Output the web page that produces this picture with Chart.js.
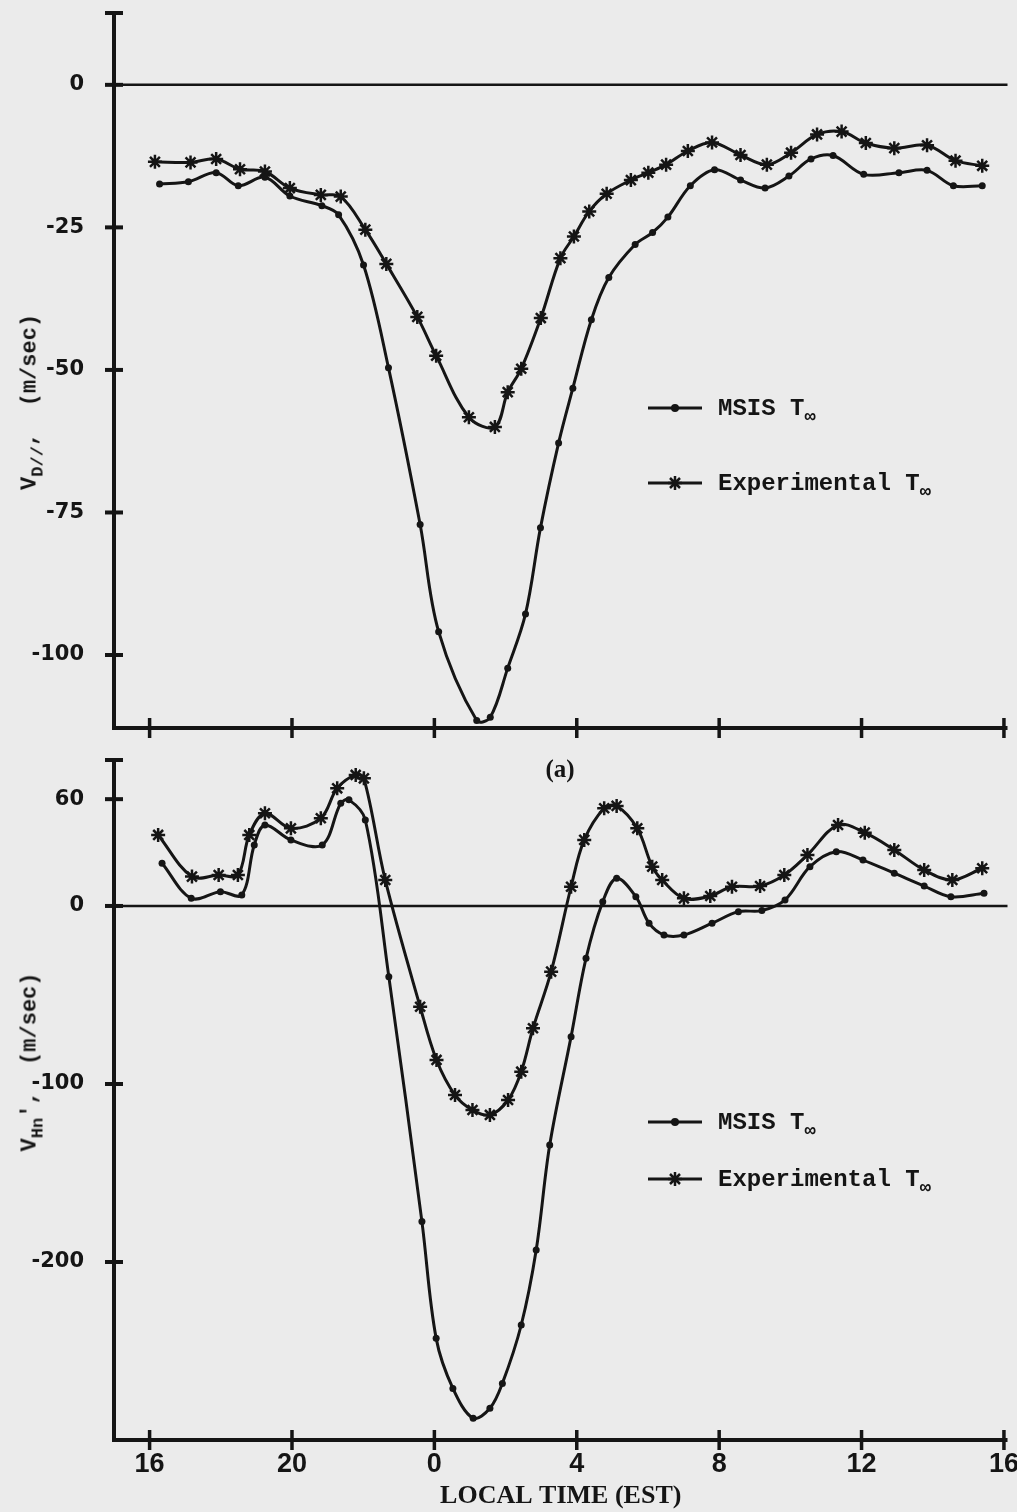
<!DOCTYPE html>
<html>
<head>
<meta charset="utf-8">
<script src="https://cdn.jsdelivr.net/npm/chart.js@4.4.1/dist/chart.umd.min.js"></script>
<style>
  body { margin: 0; background: #ebebeb; }
  #page { position: relative; width: 1017px; height: 1512px; overflow: hidden; background: #ebebeb; color: #151515; }
  canvas { position: absolute; left: 0; }
  .ylab { position: absolute; font: bold 22px "Liberation Mono", monospace; white-space: pre; transform: translate(-50%, -50%) rotate(-90deg); }
  .ylab sub, .leg sub { font-size: 0.78em; vertical-align: -0.4em; line-height: 0; }
  .leg { position: absolute; left: 648px; height: 26px; display: flex; align-items: center; font: bold 24px "Liberation Mono", monospace; white-space: pre; }
  .leg svg { margin-right: 16px; }
  .tag { position: absolute; font: bold 25px "Liberation Serif", serif; transform: translate(-50%, -50%); }
</style>
</head>
<body>
<div id="page">
  <canvas id="chartA" width="1017" height="790" style="top:0"></canvas>
  <canvas id="chartB" width="1017" height="772" style="top:740px"></canvas>
  <div class="ylab" style="left:30px;top:402px">V<sub>D//</sub>,  (m/sec)</div>
  <div class="ylab" style="left:30px;top:1062px">V<sub>Hn</sub>',  (m/sec)</div>
  <div class="tag" style="left:560px;top:769px">(a)</div>
</div>
<script>
// ---- data (hours counted from the first midnight, 24 = 0 h next day) ----
const xTickHours = [16, 20, 24, 28, 32, 36, 40];
const xTickLabels = ["16", "20", "0", "4", "8", "12", "16"];

// (a) V_D//
const yTicksA = [0, -25, -50, -75, -100];
const msisTimeA = [16.28, 17.09, 17.87, 18.49, 19.24, 19.94, 20.84, 21.31, 22.01, 22.71, 23.60, 24.12, 25.19, 25.57, 26.06, 26.56, 26.98, 27.49, 27.89, 28.41, 28.90, 29.64, 30.13, 30.56, 31.19, 31.87, 32.60, 33.29, 33.96, 34.58, 35.20, 36.06, 37.05, 37.84, 38.58, 39.39];
const msisVelA = [-17.4, -17.0, -15.4, -17.7, -16.2, -19.5, -21.2, -22.8, -31.6, -49.6, -77.1, -95.9, -111.5, -110.9, -102.3, -92.8, -77.7, -62.8, -53.2, -41.2, -33.8, -28.0, -25.9, -23.2, -17.7, -14.9, -16.7, -18.1, -16.0, -13.0, -12.4, -15.7, -15.4, -15.0, -17.7, -17.7];
const expTimeA = [16.15, 17.15, 17.87, 18.54, 19.24, 19.94, 20.81, 21.37, 22.06, 22.65, 23.52, 24.05, 24.97, 25.70, 26.06, 26.44, 26.99, 27.54, 27.92, 28.35, 28.84, 29.52, 30.01, 30.51, 31.12, 31.80, 32.60, 33.34, 34.02, 34.75, 35.44, 36.12, 36.92, 37.84, 38.64, 39.39];
const expVelA = [-13.5, -13.6, -13.0, -14.8, -15.2, -18.1, -19.3, -19.6, -25.4, -31.4, -40.7, -47.5, -58.3, -60.0, -53.9, -49.8, -40.9, -30.4, -26.6, -22.2, -19.1, -16.7, -15.4, -14.0, -11.6, -10.1, -12.3, -14.0, -11.9, -8.7, -8.2, -10.2, -11.1, -10.6, -13.3, -14.2];

// (b) V_Hn'
const yTicksB = [60, 0, -100, -200];
const msisTimeB = [16.35, 17.17, 17.99, 18.59, 18.94, 19.24, 19.97, 20.85, 21.37, 21.60, 22.06, 22.72, 23.65, 24.05, 24.52, 25.09, 25.56, 25.91, 26.44, 26.86, 27.24, 27.84, 28.26, 28.73, 29.12, 29.66, 30.03, 30.45, 31.01, 31.80, 32.54, 33.20, 33.85, 34.55, 35.29, 36.04, 36.92, 37.76, 38.51, 39.44];
const msisVelB = [24.0, 4.3, 8.0, 6.2, 34.3, 45.5, 37.1, 34.3, 57.7, 59.6, 48.3, -39.7, -177.3, -242.9, -271, -287.8, -282.2, -268.2, -235.4, -193.3, -134.3, -73.4, -29.4, 2.4, 15.6, 5.2, -9.7, -16.3, -16.3, -9.7, -3.2, -2.6, 3.4, 22.1, 30.5, 25.8, 18.4, 11.2, 5.2, 7.1];
const expTimeB = [16.24, 17.19, 17.94, 18.48, 18.80, 19.24, 19.97, 20.81, 21.27, 21.79, 22.02, 22.62, 23.60, 24.06, 24.58, 25.07, 25.56, 26.07, 26.44, 26.77, 27.28, 27.84, 28.21, 28.77, 29.12, 29.70, 30.12, 30.40, 31.01, 31.75, 32.36, 33.15, 33.83, 34.48, 35.34, 36.09, 36.92, 37.76, 38.55, 39.39];
const expVelB = [39.9, 16.5, 17.4, 17.4, 39.9, 52.1, 43.6, 49.3, 66.1, 73.6, 71.7, 14.6, -56.6, -86.5, -106.2, -114.6, -117.4, -109, -93.1, -68.7, -36.9, 10.8, 37.1, 54.9, 56.2, 43.6, 22.1, 14.6, 4.3, 5.6, 10.8, 11.2, 17.4, 28.7, 45.5, 41.2, 31.5, 20.2, 14.6, 21.2];

const seriesLabels = ["MSIS T∞", "Experimental T∞"];

const INK = "#151515";

function toPoints(t, v) {
  return t.map((h, i) => ({ x: h, y: v[i] }));
}

// axes drawn as in the figure: ticks crossing the axis, cap on top, zero line
const axisLines = {
  id: "axisLines",
  beforeDatasetsDraw(chart) {
    const { ctx, chartArea: a, scales: { x, y } } = chart;
    const line = (x1, y1, x2, y2) => { ctx.beginPath(); ctx.moveTo(x1, y1); ctx.lineTo(x2, y2); ctx.stroke(); };
    ctx.save();
    ctx.strokeStyle = INK;
    ctx.lineWidth = 2.5;
    const y0 = y.getPixelForValue(0);
    line(a.left, y0, a.right, y0);
    ctx.lineWidth = 4;
    line(a.left, a.top, a.left, a.bottom + 2);
    line(a.left - 2, a.bottom, a.right, a.bottom);
    line(a.left - 9, a.top, a.left + 9, a.top);
    y.ticks.forEach(t => { const p = y.getPixelForValue(t.value); line(a.left - 9, p, a.left + 9, p); });
    ctx.lineWidth = 3.5;
    x.ticks.forEach(t => { const p = x.getPixelForValue(t.value); line(p, a.bottom - 10, p, a.bottom + 10); });
    ctx.restore();
  }
};

function buildPanel(id, cfg) {
  return new Chart(document.getElementById(id), {
    type: "line",
    data: {
      datasets: [
        {
          label: seriesLabels[0],
          data: toPoints(cfg.msisT, cfg.msisV),
          borderColor: INK, backgroundColor: INK, borderWidth: 3,
          pointStyle: "circle", pointRadius: 3.5, pointBorderWidth: 0,
          tension: 0.35
        },
        {
          label: seriesLabels[1],
          data: toPoints(cfg.expT, cfg.expV),
          borderColor: INK, backgroundColor: INK, borderWidth: 3,
          pointStyle: "star", pointRadius: 7, pointBorderWidth: 2.5,
          tension: 0.35
        }
      ]
    },
    options: {
      responsive: false,
      animation: false,
      events: [],
      layout: { padding: { top: cfg.padTop, right: 7, left: 0, bottom: 0 } },
      plugins: { legend: { display: false }, tooltip: { enabled: false } },
      scales: {
        x: {
          type: "linear", min: 15, max: 40.1,
          grid: { display: false }, border: { display: false },
          afterBuildTicks: s => { s.ticks = xTickHours.map(v => ({ value: v })); },
          ticks: {
            display: cfg.xLabels, autoSkip: false, maxRotation: 0, padding: 0, color: INK,
            font: { family: "'Liberation Sans', sans-serif", weight: "bold", size: 27 },
            callback: (v, i) => xTickLabels[i]
          },
          title: {
            display: cfg.xLabels, text: "LOCAL TIME (EST)", color: INK, padding: { top: 0, bottom: 0 },
            font: { family: "'Liberation Serif', serif", weight: "bold", size: 26 }
          },
          afterFit: s => { s.height = cfg.xHeight; s.paddingLeft = 0; s.paddingRight = 0; }
        },
        y: {
          min: cfg.yMin, max: cfg.yMax,
          grid: { display: false }, border: { display: false },
          afterBuildTicks: s => { s.ticks = cfg.yTicks.map(v => ({ value: v })); },
          ticks: {
            padding: 22, color: INK,
            font: { family: "'DejaVu Sans', sans-serif", weight: "bold", size: 21 }
          },
          afterFit: s => { s.width = 114; s.paddingTop = 0; s.paddingBottom = 0; }
        }
      }
    },
    plugins: [axisLines]
  });
}

function sampleSvg(ds) {
  let mark = "";
  if (ds.pointStyle === "star") {
    mark = `<path d="M20 13 H34 M27 6 V20 M22 8 L32 18 M32 8 L22 18" stroke="${INK}" stroke-width="2.5" fill="none"/>`;
  } else {
    mark = `<circle cx="27" cy="13" r="4" fill="${INK}"/>`;
  }
  return `<svg width="54" height="26"><line x1="0" y1="13" x2="54" y2="13" stroke="${INK}" stroke-width="3"/>${mark}</svg>`;
}

function htmlLegend(chart, rowsY) {
  const page = document.getElementById("page");
  chart.data.datasets.forEach((ds, i) => {
    const row = document.createElement("div");
    row.className = "leg";
    row.style.top = (rowsY[i] - 13) + "px";
    row.innerHTML = sampleSvg(ds) + "<span>" + ds.label.replace("∞", "<sub>∞</sub>") + "</span>";
    page.appendChild(row);
  });
}

const chartA = buildPanel("chartA", {
  msisT: msisTimeA, msisV: msisVelA, expT: expTimeA, expV: expVelA,
  yMin: -112.8, yMax: 12.6, yTicks: yTicksA, padTop: 13, xHeight: 62, xLabels: false
});
const chartB = buildPanel("chartB", {
  msisT: msisTimeB, msisV: msisVelB, expT: expTimeB, expV: expVelB,
  yMin: -300, yMax: 82, yTicks: yTicksB, padTop: 20, xHeight: 72, xLabels: true
});

htmlLegend(chartA, [408, 483]);
htmlLegend(chartB, [1122, 1179]);
</script>
</body>
</html>
